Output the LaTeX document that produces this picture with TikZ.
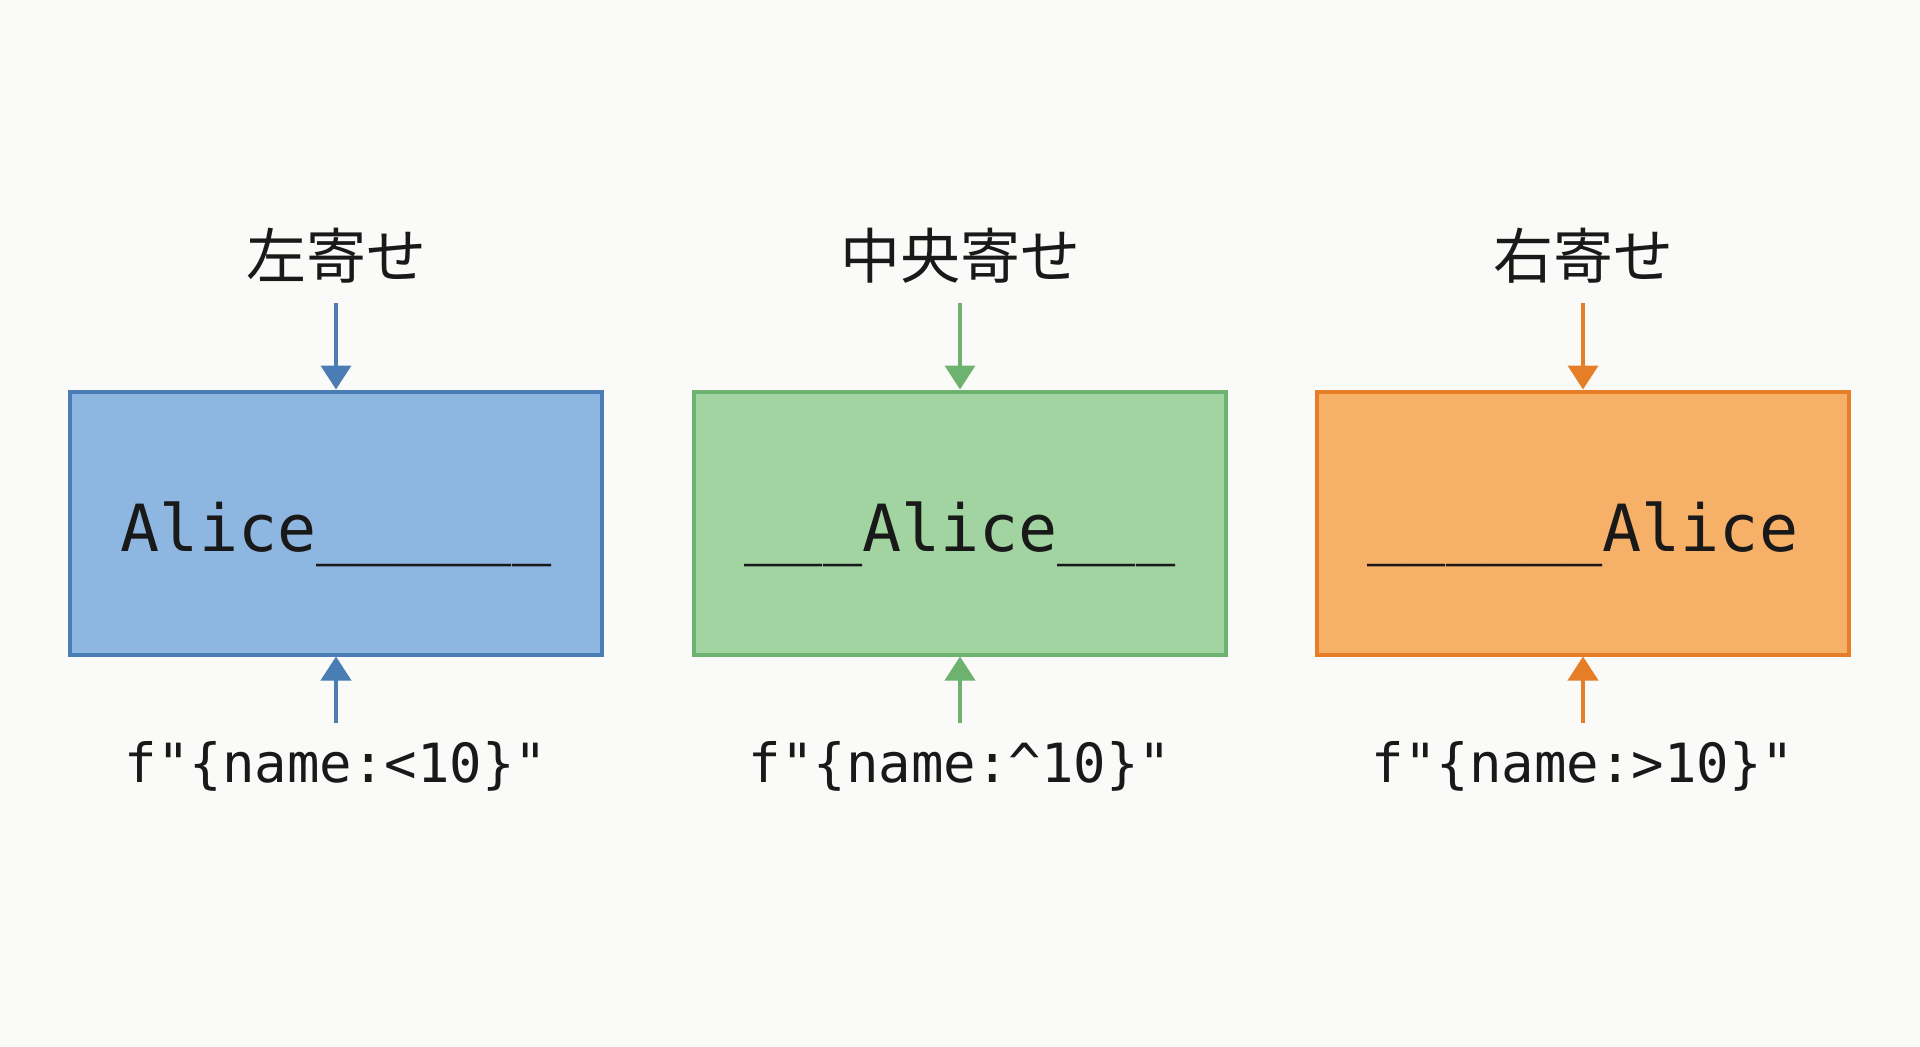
\documentclass[tikz,border=0pt]{standalone}
\usepackage{fontspec}
\newfontfamily\cjk{Noto Sans CJK JP}
\newfontfamily\mono{DejaVu Sans Mono}
\usetikzlibrary{arrows.meta}
\definecolor{bg}{HTML}{FAFAF9}
\definecolor{bluefill}{HTML}{8DB6E1}
\definecolor{blueline}{HTML}{4A7DB4}
\definecolor{greenfill}{HTML}{A1D4A1}
\definecolor{greenline}{HTML}{6DB26E}
\definecolor{orangefill}{HTML}{F7B068}
\definecolor{orangeline}{HTML}{E57E26}
\tikzset{
  valbox/.style={draw=#1line, fill=#1fill, line width=4pt, minimum width=532pt, minimum height=263pt, inner sep=0pt, text height=60pt, text depth=4pt, font=\mono\fontsize{65}{72}\selectfont, text=black!90},
  titlelab/.style={font=\cjk\fontsize{60}{68}\selectfont, text=black!90, inner sep=0pt},
  codelab/.style={font=\mono\fontsize{54}{62}\selectfont, text=black!90, inner sep=0pt},
  conn/.style={draw=#1line, line width=4pt, -{Triangle[width=30pt,length=24pt]}},
}
\begin{document}
\begin{tikzpicture}[x=1pt,y=-1pt]
\fill[bg] (0,0) rectangle (1920,1047);
\useasboundingbox (0,0) rectangle (1920,1047);

\node[valbox=blue] (b1) at (336,523) {Alice\_\_\_\_\_\_};
\node[valbox=green] (b2) at (960,523) {\_\_\_Alice\_\_\_};
\node[valbox=orange] (b3) at (1583,523) {\_\_\_\_\_\_Alice};

\node[titlelab] (t1) at (336,256) {左寄せ};
\node[titlelab] (t2) at (960,256) {中央寄せ};
\node[titlelab] (t3) at (1583,256) {右寄せ};

\node[codelab] (c1) at (336,766) {f"\{name:<10\}"};
\node[codelab] (c2) at (960,766) {f"\{name:\textasciicircum 10\}"};
\node[codelab] (c3) at (1583,766) {f"\{name:>10\}"};

\coordinate (a1) at (336,303);
\coordinate (a2) at (960,303);
\coordinate (a3) at (1583,303);
\coordinate (d1) at (336,723);
\coordinate (d2) at (960,723);
\coordinate (d3) at (1583,723);

\draw[conn=blue] (a1) -- (b1.north);
\draw[conn=green] (a2) -- (b2.north);
\draw[conn=orange] (a3) -- (b3.north);
\draw[conn=blue] (d1) -- (b1.south);
\draw[conn=green] (d2) -- (b2.south);
\draw[conn=orange] (d3) -- (b3.south);
\end{tikzpicture}
\end{document}
